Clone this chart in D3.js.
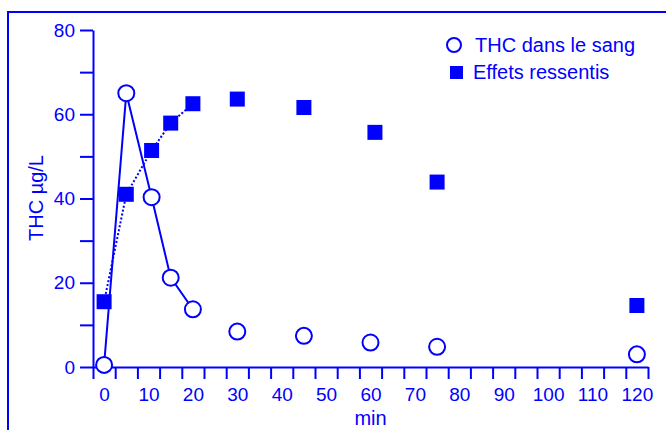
<!DOCTYPE html>
<html>
<head>
<meta charset="utf-8">
<script src="https://cdn.jsdelivr.net/npm/d3@7"></script>
<style>
  body { margin: 0; background: #fff; }
  svg { display: block; font-family: "Liberation Sans", Arial, sans-serif; }
  .axis text { fill: #0000ff; }
  .axis line, .axis path { stroke: #0000ff; stroke-width: 2; }
</style>
</head>
<body>
<script>
// data
var thcTimes = [0, 5, 10.7, 15, 20, 30, 45, 60, 75, 120];
var thcValues = [0.5, 65, 40.3, 21.2, 13.7, 8.4, 7.4, 5.8, 4.8, 3.0];
var effTimes = [0, 5, 10.7, 15, 20, 30, 45, 61, 75, 120];
var effValues = [15.5, 41, 51.4, 57.9, 62.5, 63.6, 61.6, 55.7, 43.9, 14.6];
var xLabels = [0, 10, 20, 30, 40, 50, 60, 70, 80, 90, 100, 110, 120];
var yTicks = [0, 10, 20, 30, 40, 50, 60, 70, 80];
var legendLabels = ["THC dans le sang", "Effets ressentis"];

var blue = "#0000ff";
var width = 666, height = 430;

var svg = d3.select("body").append("svg")
    .attr("width", width)
    .attr("height", height);

// frame (only left and top edges visible)
svg.append("rect")
    .attr("x", 8).attr("y", 12)
    .attr("width", 700).attr("height", 500)
    .attr("fill", "none")
    .attr("stroke", blue)
    .attr("stroke-width", 2);

var x = d3.scaleLinear().domain([-2.5, 122.5]).range([93, 648]);
var y = d3.scaleLinear().domain([0, 80]).range([367, 30]);

// x axis: ticks halfway between labels
var xTickVals = d3.range(0, 26).map(function(i) { return -2.5 + i * 5; });
svg.append("g")
    .attr("class", "axis")
    .attr("transform", "translate(0," + y(0) + ")")
    .call(d3.axisBottom(x)
        .tickValues(xTickVals)
        .tickSize(12)
        .tickSizeOuter(0)
        .tickFormat(""));

svg.append("g")
    .attr("class", "axis")
    .attr("transform", "translate(0," + y(0) + ")")
    .call(d3.axisBottom(x)
        .tickValues(xLabels)
        .tickSize(0)
        .tickPadding(21))
    .call(function(g) { g.select(".domain").remove(); })
    .selectAll("text")
    .attr("font-size", 19);

// y axis
svg.append("g")
    .attr("class", "axis")
    .attr("transform", "translate(" + x(-2.5) + ",0)")
    .call(d3.axisLeft(y)
        .tickValues(yTicks)
        .tickSize(13)
        .tickSizeOuter(0)
        .tickPadding(5)
        .tickFormat(function(d) { return d % 20 === 0 ? d : ""; }))
    .selectAll("text")
    .attr("font-size", 19);

// axis titles
svg.append("text")
    .attr("transform", "translate(43,198) rotate(-90)")
    .attr("text-anchor", "middle")
    .attr("fill", blue)
    .attr("font-size", 20)
    .text("THC µg/L");

svg.append("text")
    .attr("x", (x(-2.5) + x(122.5)) / 2)
    .attr("y", 425)
    .attr("text-anchor", "middle")
    .attr("fill", blue)
    .attr("font-size", 20)
    .text("min");

var thc = thcTimes.map(function(t, i) { return {t: t, v: thcValues[i]}; });
var eff = effTimes.map(function(t, i) { return {t: t, v: effValues[i]}; });

var line = d3.line()
    .x(function(d) { return x(d.t); })
    .y(function(d) { return y(d.v); });

// connecting lines only over the first 20 minutes
svg.append("path")
    .datum(eff.filter(function(d) { return d.t <= 20; }))
    .attr("d", line)
    .attr("fill", "none")
    .attr("stroke", blue)
    .attr("stroke-width", 2)
    .attr("stroke-dasharray", "2,2");

svg.append("path")
    .datum(thc.filter(function(d) { return d.t <= 20; }))
    .attr("d", line)
    .attr("fill", "none")
    .attr("stroke", blue)
    .attr("stroke-width", 2);

var sq = 15;
svg.selectAll(".eff")
    .data(eff)
  .enter().append("rect")
    .attr("class", "eff")
    .attr("x", function(d) { return x(d.t) - sq / 2; })
    .attr("y", function(d) { return y(d.v) - sq / 2; })
    .attr("width", sq)
    .attr("height", sq)
    .attr("fill", blue);

svg.selectAll(".thc")
    .data(thc)
  .enter().append("circle")
    .attr("class", "thc")
    .attr("cx", function(d) { return x(d.t); })
    .attr("cy", function(d) { return y(d.v); })
    .attr("r", 8)
    .attr("fill", "#fff")
    .attr("stroke", blue)
    .attr("stroke-width", 2);

// legend
var legend = svg.append("g");
legend.append("circle")
    .attr("cx", 454).attr("cy", 45).attr("r", 7)
    .attr("fill", "#fff")
    .attr("stroke", blue)
    .attr("stroke-width", 2);
legend.append("text")
    .attr("x", 475).attr("y", 52)
    .attr("fill", blue)
    .attr("font-size", 20)
    .text(legendLabels[0]);
legend.append("rect")
    .attr("x", 450).attr("y", 66)
    .attr("width", 13).attr("height", 13)
    .attr("fill", blue);
legend.append("text")
    .attr("x", 473).attr("y", 79)
    .attr("fill", blue)
    .attr("font-size", 20)
    .text(legendLabels[1]);
</script>
</body>
</html>
